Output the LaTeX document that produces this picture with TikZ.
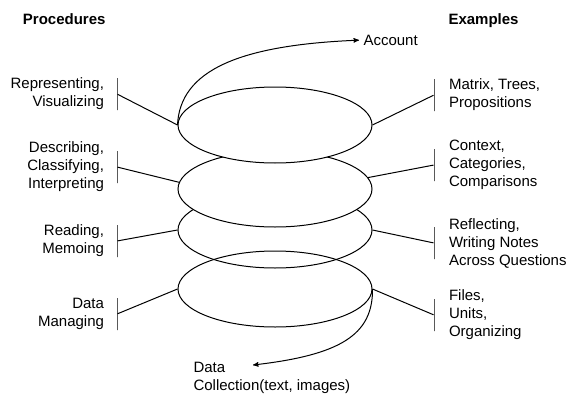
\documentclass[tikz,border=0pt]{standalone}
\usepackage{fontspec}
\setmainfont{Liberation Sans}
\usetikzlibrary{arrows,positioning,shapes.geometric}

\begin{document}
\begin{tikzpicture}[x=1pt,y=1pt,line width=1pt,node distance=12pt,
    font=\fontsize{15}{18}\selectfont]
  \tikzstyle{loop}=[ellipse,draw,minimum width=194pt,minimum height=76pt,inner sep=0pt]
  \tikzstyle{bar}=[draw,minimum height=32pt,minimum width=0pt,inner sep=0pt]
  \tikzstyle{proc}=[align=right,inner sep=0pt]
  \tikzstyle{expl}=[align=left,inner sep=0pt]
  \tikzstyle{head}=[font=\fontsize{15}{18}\selectfont\bfseries,inner sep=0pt]

  \useasboundingbox (0,0) rectangle (572,-404);

  % the spiral, upper loops hide the loop below
  \node[loop,fill=white] (l_3) at (275,-230) {};
  \node[loop,fill=white] (l_2) at (275,-189) {};
  \node[loop,fill=white] (l_1) at (275,-125) {};
  \node[loop]            (l_4) at (275,-289) {};

  \node[head,anchor=east] (procs) at (106,-19) {Procedures};
  \node[head,anchor=west] (exs)   at (448,-21) {Examples};

  % procedures
  \node[bar] (p_1) at (117,-94)  {};
  \node[bar] (p_2) at (117,-167) {};
  \node[bar] (p_3) at (117,-241) {};
  \node[bar] (p_4) at (117,-314) {};
  \node[proc] [left=of p_1] {Representing,\\Visualizing};
  \node[proc] [left=of p_2] {Describing,\\Classifying,\\Interpreting};
  \node[proc] [left=of p_3] {Reading,\\Memoing};
  \node[proc] [left=of p_4] {Data\\Managing};

  % examples
  \node[bar] (e_1) at (434,-95)  {};
  \node[bar] (e_2) at (434,-165) {};
  \node[bar] (e_3) at (434,-243) {};
  \node[bar] (e_4) at (434,-315) {};
  \node[expl] [right=14pt of e_1] {Matrix, Trees,\\Propositions};
  \node[expl] [right=14pt of e_2] {Context,\\Categories,\\Comparisons};
  \node[expl] [right=14pt of e_3] {Reflecting,\\Writing Notes\\Across Questions};
  \node[expl] [right=14pt of e_4] {Files,\\Units,\\Organizing};

  \node[anchor=west,inner sep=0pt] (account) at (363,-40) {Account};
  \node[expl,anchor=north west] (data) at (193,-362) {Data\\Collection(text, images)};
  \coordinate (start) at (253,-365);

  \path[draw]
  (p_1) -- (l_1.west)
  (p_2) -- (l_2.176)
  (p_3) -- (l_3.west)
  (p_4) -- (l_4.west)
  (e_1) -- (l_1.east)
  (e_2) -- (l_2.7)
  (e_3) -- (l_3.east)
  (e_4) -- (l_4.east);

  \draw[->,>=stealth',shorten >=4pt] (l_1.west) .. controls (180,-70) and (240,-45) .. (account.west);
  \draw[->,>=stealth'] (l_4.east) .. controls (373,-335) and (340,-355) .. (start);
\end{tikzpicture}
\end{document}
